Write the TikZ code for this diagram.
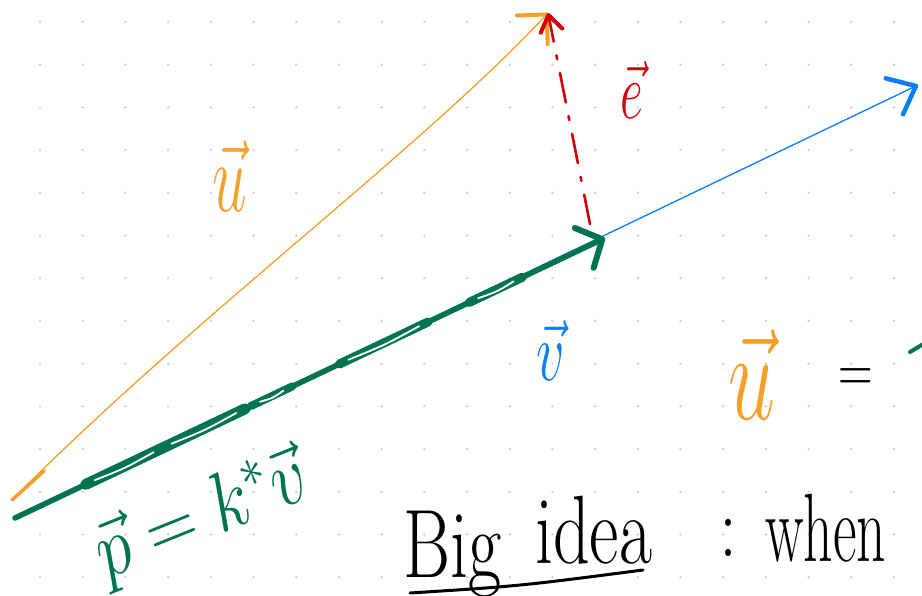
\RequirePackage{fix-cm}
\documentclass[tikz,border=0pt]{standalone}
\usetikzlibrary{arrows.meta,calc}
\definecolor{penU}{RGB}{245,160,40}
\definecolor{penV}{RGB}{10,125,250}
\definecolor{penE}{RGB}{210,0,10}
\definecolor{penP}{RGB}{0,115,80}
\definecolor{dotG}{RGB}{205,205,205}

\begin{document}
\begin{tikzpicture}[x=1pt, y=-1pt, line cap=round, line join=round,
  tipV/.style={-{Straight Barb[round, length=24pt, width=40pt, line width=4.5pt]}},
  tipU/.style={-{Straight Barb[round, length=21pt, width=42pt, line width=4pt]}},
  tipE/.style={-{Straight Barb[round, length=16pt, width=22pt, line width=4pt]}},
  tipP/.style={-{Straight Barb[round, length=20pt, width=44pt, line width=6pt]}},
  lab/.style={inner sep=0pt, font=\fontsize{#1}{#1}\selectfont}]
% ---------- 点阵背景 ----------
\fill[white] (0,0) rectangle (922,596);
\foreach \i in {0,...,20}
  \foreach \j in {0,...,13}
    \fill[dotG] ({40+42.7*\i},{22+42.7*\j}) circle (1.3);
\useasboundingbox (0,0) rectangle (922,596);
% ---------- 向量 v, u, e ----------
\coordinate (O) at (15,518);
\coordinate (V) at (918,85);
\coordinate (U0) at (12,500);
\coordinate (U) at (548,13);
\coordinate (P) at (605,238);
\coordinate (E) at (590,224);
\draw[penV, line width=1.3, tipV] (O) -- (V);
\draw[penU, line width=1.3, tipU] (U0) .. controls (190,320) and (420,150) .. (U);
\draw[penU, line width=3.5] (U0) -- ($(U0)!0.06!(U)$);
\draw[penE, line width=2.6, dash pattern=on 30pt off 14pt on 4pt off 14pt, tipE] (E) -- (U);
% ---------- 投影 p（粗笔，重描处留白缝） ----------
\draw[penP, line width=5.5, tipP] (O) -- (P);
\foreach \a/\b/\w in {.12/.25/11, .25/.39/11, .40/.47/8, .55/.70/9, .77/.86/9} {
  \draw[penP, line width=\w] ($(O)!\a!(P)$) -- ($(O)!\b!(P)$);
  \draw[white, line width=1.8] ($(O)!{\a+.015}!(P)$)
    .. controls ($(O)!{(\a+\b)/2}!(P) + (1,2)$) .. ($(O)!{\b-.015}!(P)$);
}
% ---------- 标注 ----------
\node[lab=62, text=penU] (lu) at (230,176) {\scalebox{1}[1.6]{$\vec{u}$}};
\node[lab=50, text=penE] (le) at (632,90) {\scalebox{1}[1.6]{$\vec{e}$}};
\node[lab=56, text=penV] (lv) at (551,351) {\scalebox{1}[1.5]{$\vec{v}$}};
\node[lab=64, text=penP, rotate=22] (lp) at (202,518) {\scalebox{1.1}[1.3]{$\vec{p}=k^{*}\vec{v}$}};
% ---------- 右侧公式（被截断） ----------
\node[lab=84, text=penU] (lU) at (752,375) {\scalebox{1}[1.5]{$\vec{u}$}};
\node[lab=48] (eq) at (856,381) {\scalebox{1}[1.4]{$=$}};
\draw[penP, line width=4] (910,352) -- (925,343);
% ---------- Big idea ----------
\node[lab=72, anchor=base west] (big) at (403,577) {\scalebox{1}[1.35]{Big}};
\node[lab=72, anchor=base west] (idea) at (535,563) {\scalebox{1}[1.35]{idea}};
\node[lab=72, anchor=base] (colon) at (728,556) {\scalebox{1}[1.2]{:}};
\node[lab=72, anchor=base west] (when) at (765,561) {\scalebox{0.8}[1.35]{when}};
\coordinate (ul1) at (410,593);
\coordinate (ul2) at (643,570);
\draw[line width=3] (ul1) .. controls (520,586) .. (ul2);
\end{tikzpicture}
\end{document}
